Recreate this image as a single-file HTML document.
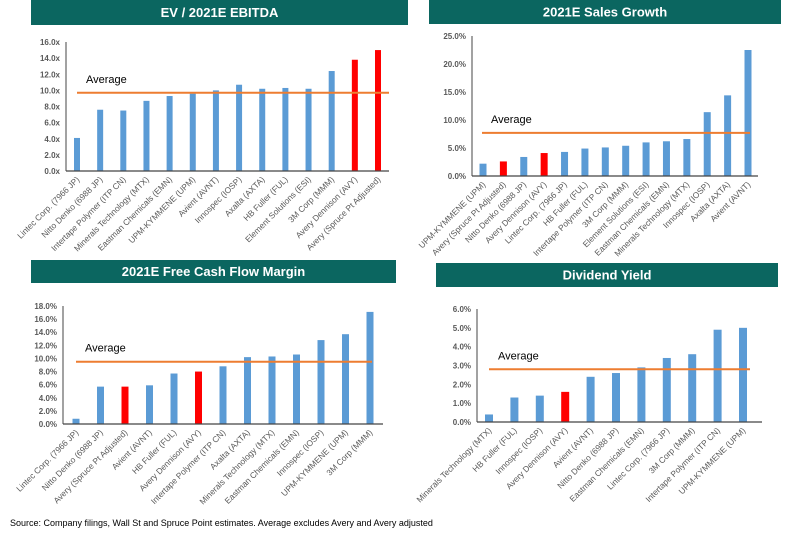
<!DOCTYPE html>
<html><head><meta charset="utf-8"><style>
html,body{margin:0;padding:0;background:#fff;}
svg{display:block;font-family:"Liberation Sans",sans-serif;}
</style></head><body>
<svg id="root" width="788" height="536" viewBox="0 0 788 536">
<text x="10" y="526" font-size="9" fill="#000">Source: Company filings, Wall St and Spruce Point estimates. Average excludes Avery and Avery adjusted</text>
</svg>
<script>
// ---- Chart 1: EV / 2021E EBITDA ----
const c1Categories = ["Lintec Corp. (7966 JP)","Nitto Denko (6988 JP)","Intertape Polymer (ITP CN)","Minerals Technology (MTX)","Eastman Chemicals (EMN)","UPM-KYMMENE (UPM)","Avient (AVNT)","Innospec (IOSP)","Axalta (AXTA)","HB Fuller (FUL)","Element Solutions (ESI)","3M Corp (MMM)","Avery Dennison (AVY)","Avery (Spruce Pt Adjusted)"];
const c1Values = [4.1,7.6,7.5,8.7,9.3,9.6,10.0,10.7,10.2,10.3,10.2,12.4,13.8,15.0];
const c1Highlight = [12,13];
const c1Average = 9.7;
const c1Ticks = [0,2,4,6,8,10,12,14,16];
const c1TickLabels = ["0.0x","2.0x","4.0x","6.0x","8.0x","10.0x","12.0x","14.0x","16.0x"];

// ---- Chart 2: 2021E Sales Growth ----
const c2Categories = ["UPM-KYMMENE (UPM)","Avery (Spruce Pt Adjusted)","Nitto Denko (6988 JP)","Avery Dennison (AVY)","Lintec Corp. (7966 JP)","HB Fuller (FUL)","Intertape Polymer (ITP CN)","3M Corp (MMM)","Element Solutions (ESI)","Eastman Chemicals (EMN)","Minerals Technology (MTX)","Innospec (IOSP)","Axalta (AXTA)","Avient (AVNT)"];
const c2Values = [2.2,2.6,3.4,4.1,4.3,4.9,5.1,5.4,6.0,6.2,6.6,11.4,14.4,22.5];
const c2Highlight = [1,3];
const c2Average = 7.7;
const c2Ticks = [0,5,10,15,20,25];
const c2TickLabels = ["0.0%","5.0%","10.0%","15.0%","20.0%","25.0%"];

// ---- Chart 3: 2021E Free Cash Flow Margin ----
const c3Categories = ["Lintec Corp. (7966 JP)","Nitto Denko (6988 JP)","Avery (Spruce Pt Adjusted)","Avient (AVNT)","HB Fuller (FUL)","Avery Dennison (AVY)","Intertape Polymer (ITP CN)","Axalta (AXTA)","Minerals Technology (MTX)","Eastman Chemicals (EMN)","Innospec (IOSP)","UPM-KYMMENE (UPM)","3M Corp (MMM)"];
const c3Values = [0.8,5.7,5.7,5.9,7.7,8.0,8.8,10.2,10.3,10.6,12.8,13.7,17.1];
const c3Highlight = [2,5];
const c3Average = 9.5;
const c3Ticks = [0,2,4,6,8,10,12,14,16,18];
const c3TickLabels = ["0.0%","2.0%","4.0%","6.0%","8.0%","10.0%","12.0%","14.0%","16.0%","18.0%"];

// ---- Chart 4: Dividend Yield ----
const c4Categories = ["Minerals Technology (MTX)","HB Fuller (FUL)","Innospec (IOSP)","Avery Dennison (AVY)","Avient (AVNT)","Nitto Denko (6988 JP)","Eastman Chemicals (EMN)","Lintec Corp. (7966 JP)","3M Corp (MMM)","Intertape Polymer (ITP CN)","UPM-KYMMENE (UPM)"];
const c4Values = [0.4,1.3,1.4,1.6,2.4,2.6,2.9,3.4,3.6,4.9,5.0];
const c4Highlight = [3];
const c4Average = 2.8;
const c4Ticks = [0,1,2,3,4,5,6];
const c4TickLabels = ["0.0%","1.0%","2.0%","3.0%","4.0%","5.0%","6.0%"];

const NS = "http://www.w3.org/2000/svg";
const root = document.getElementById("root");
function mk(tag, attrs, parent){
  const e = document.createElementNS(NS, tag);
  for (const k in attrs) e.setAttribute(k, attrs[k]);
  (parent||root).appendChild(e);
  return e;
}

function drawChart(id, title, cfg, cats, vals, hi, avg, ticks, tickLabels){
  const g = mk("g", {});
  
  
  const bar = mk("rect", {x:cfg.tx, y:cfg.ty, width:cfg.tw, height:cfg.th, fill:"#0b6660"}, g);
  
  
  const tt = mk("text", {x:cfg.tx+cfg.tw/2, y:cfg.ty+cfg.th/2+4.5, "text-anchor":"middle", "font-size":"13", "font-weight":"bold", fill:"#fff"}, g);
  tt.textContent = title;
  
  
  const maxT = ticks[ticks.length-1];
  const yS = v => cfg.y0 - (v/maxT)*(cfg.y0-cfg.yTop);
  const n = cats.length;
  const step = (cfg.xLast - cfg.xFirst)/(n-1);
  const xS = i => cfg.xFirst + i*step;
  ticks.forEach((t,i)=>{
    const tl = mk("text", {x:cfg.ax-6, y:yS(t)+3, "text-anchor":"end", "font-size":"8", "font-weight":"bold", fill:"#595959"}, g);
    tl.textContent = tickLabels[i];
    
    
  });
  const ya = mk("line", {x1:cfg.ax, y1:cfg.yTop, x2:cfg.ax, y2:cfg.y0, stroke:"#444", "stroke-width":"1"}, g);
  
  
  vals.forEach((v,i)=>{
    const x = xS(i);
    const r = mk("rect", {x:x-cfg.bw/2, y:yS(v), width:cfg.bw, height:cfg.y0-yS(v), fill: hi.includes(i) ? "#ff0000" : "#5b9bd5"}, g);
    
    
    const lab = mk("text", {x:x+3, y:cfg.y0+9, "text-anchor":"end", "font-size":"8.4", fill:"#595959", transform:`rotate(-45 ${x+3} ${cfg.y0+9})`}, g);
    lab.textContent = cats[i];
    
    
  });
  const xa = mk("line", {x1:cfg.ax, y1:cfg.y0, x2:cfg.axEnd, y2:cfg.y0, stroke:"#444", "stroke-width":"1.2"}, g);
  
  
  const al = mk("line", {x1:cfg.avgX1, y1:yS(avg), x2:cfg.avgX2, y2:yS(avg), stroke:"#ed7d31", "stroke-width":"2"}, g);
  
  
  const at = mk("text", {x:cfg.avgX1+9, y:yS(avg)-10, "font-size":"11", fill:"#000"}, g);
  at.textContent = "Average";
  
  
}

drawChart("ev-ebitda","EV / 2021E EBITDA",
  {tx:31,ty:0,tw:377,th:25,ax:66,y0:171,yTop:42,xFirst:77,xLast:378,bw:6,axEnd:389,avgX1:77,avgX2:389},
  c1Categories,c1Values,c1Highlight,c1Average,c1Ticks,c1TickLabels);
drawChart("sales-growth","2021E  Sales Growth",
  {tx:429,ty:0,tw:352,th:24,ax:472,y0:176,yTop:36,xFirst:483,xLast:748,bw:7,axEnd:758,avgX1:482,avgX2:750},
  c2Categories,c2Values,c2Highlight,c2Average,c2Ticks,c2TickLabels);
drawChart("fcf-margin","2021E  Free Cash Flow Margin",
  {tx:31,ty:260,tw:365,th:23,ax:63,y0:424,yTop:306,xFirst:76,xLast:370,bw:7,axEnd:383,avgX1:76,avgX2:372},
  c3Categories,c3Values,c3Highlight,c3Average,c3Ticks,c3TickLabels);
drawChart("dividend-yield","Dividend Yield",
  {tx:436,ty:263,tw:342,th:24,ax:477,y0:422,yTop:309,xFirst:489,xLast:743,bw:8,axEnd:762,avgX1:489,avgX2:750},
  c4Categories,c4Values,c4Highlight,c4Average,c4Ticks,c4TickLabels);
</script>
</body></html>
